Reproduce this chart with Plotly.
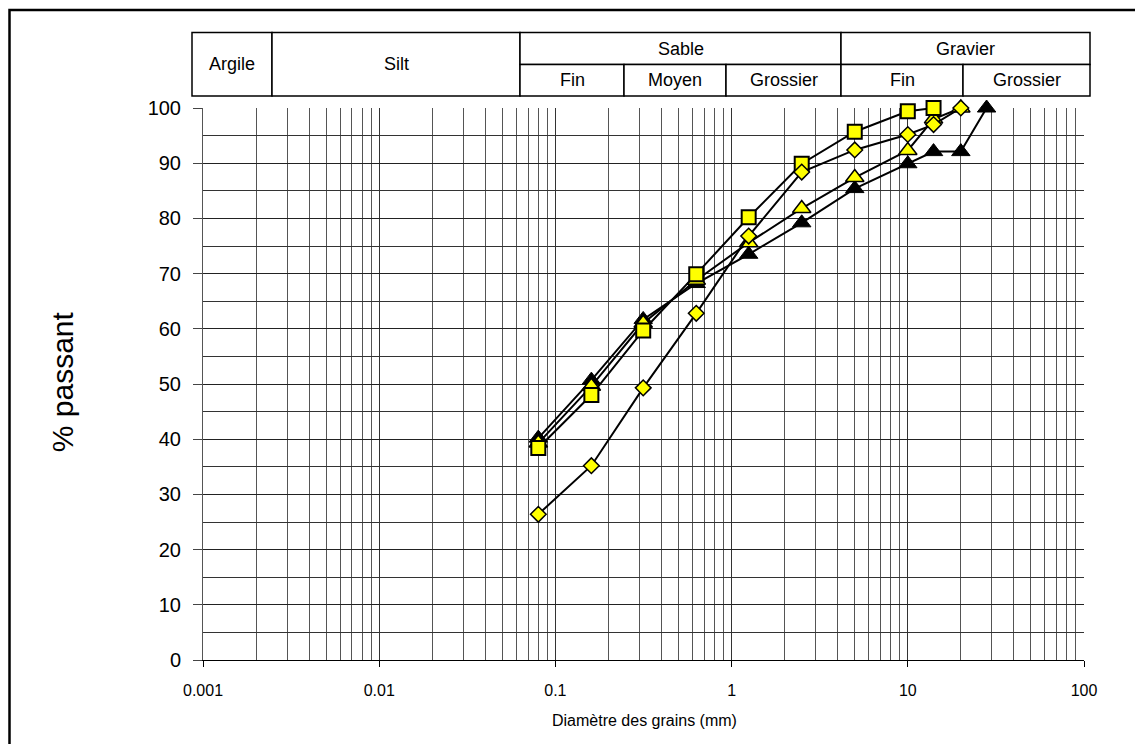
import plotly.graph_objects as go

# ---- data ----
sizes_sq = [0.08, 0.16, 0.315, 0.63, 1.25, 2.5, 5, 10, 14]
pass_sq = [38.4, 48.0, 59.7, 69.9, 80.2, 89.9, 95.7, 99.4, 100]

sizes_di = [0.08, 0.16, 0.315, 0.63, 1.25, 2.5, 5, 10, 14, 20]
pass_di = [26.4, 35.2, 49.3, 62.8, 76.8, 88.4, 92.4, 95.2, 97.0, 100]

sizes_yt = [0.08, 0.16, 0.315, 0.63, 1.25, 2.5, 5, 10, 14, 20]
pass_yt = [39.3, 49.6, 61.0, 68.8, 75.6, 81.8, 87.4, 92.3, 98.0, 100]

sizes_bt = [0.08, 0.16, 0.315, 0.63, 1.25, 2.5, 5, 10, 14, 20, 28]
pass_bt = [40.2, 50.7, 61.7, 68.2, 73.5, 79.2, 85.4, 89.9, 92.1, 92.1, 100]

x_ticks = [0.001, 0.01, 0.1, 1, 10, 100]
x_tick_labels = ["0.001", "0.01", "0.1", "1", "10", "100"]

# header table: (label, left px, right px, row)  row 0 = full height, 1 = top, 2 = bottom
header_cells = [
    ("Argile", 192, 272, 0), ("Silt", 272, 520, 0),
    ("Sable", 520, 841, 1), ("Gravier", 841, 1090, 1),
    ("Fin", 520, 624, 2), ("Moyen", 624, 726, 2), ("Grossier", 726, 841, 2),
    ("Fin", 841, 963, 2), ("Grossier", 963, 1090, 2),
]

# ---- geometry (page pixels; the page body has an 8px margin) ----
OFF = 8
W, H = 1143 - 2 * OFF, 752 - 2 * OFF
PL, PR, PT, PB = 203 - OFF, 1084 - OFF, 107.5 - OFF, 660 - OFF
FONT = "Liberation Sans, Arial, sans-serif"


def px(x):
    return (x - OFF - PL) / (PR - PL)


def py(y):
    return (PB - (y - OFF)) / (PB - PT)


fig = go.Figure()

line_style = dict(color="black", width=2)
fig.add_trace(go.Scatter(x=sizes_bt, y=pass_bt, mode="lines+markers", line=line_style,
                         cliponaxis=False,
                         marker=dict(symbol="triangle-up", size=16, color="black",
                                     line=dict(color="black", width=1)), showlegend=False))
fig.add_trace(go.Scatter(x=sizes_yt, y=pass_yt, mode="lines+markers", line=line_style,
                         cliponaxis=False,
                         marker=dict(symbol="triangle-up", size=16, color="#FFFF00",
                                     line=dict(color="black", width=1.5)), showlegend=False))
fig.add_trace(go.Scatter(x=sizes_sq, y=pass_sq, mode="lines+markers", line=line_style,
                         cliponaxis=False,
                         marker=dict(symbol="square", size=14, color="#FFFF00",
                                     line=dict(color="black", width=2)), showlegend=False))
fig.add_trace(go.Scatter(x=sizes_di, y=pass_di, mode="lines+markers", line=line_style,
                         cliponaxis=False,
                         marker=dict(symbol="diamond", size=12, color="#FFFF00",
                                     line=dict(color="black", width=1.5)), showlegend=False))

minor_vals = [m * 10 ** e for e in range(-3, 2) for m in range(2, 10)]

fig.update_xaxes(
    type="log", range=[-3, 2], tickmode="array", tickvals=x_ticks, ticktext=x_tick_labels,
    ticks="outside", ticklen=6, tickcolor="black", tickwidth=1,
    ticklabelstandoff=10,
    showgrid=True, gridcolor="#333333", gridwidth=1,
    minor=dict(tickmode="array", tickvals=minor_vals, showgrid=True,
               gridcolor="#555555", gridwidth=1, ticks=""),
    showline=True, linecolor="black", linewidth=1, mirror=False,
    zeroline=False,
    tickfont=dict(family=FONT, size=16, color="black"),
)
fig.update_yaxes(
    range=[0, 100], tickmode="linear", tick0=0, dtick=10,
    ticks="outside", ticklen=9, tickcolor="#444444", tickwidth=1,
    ticklabelstandoff=8,
    showgrid=True, gridcolor="#222222", gridwidth=1,
    minor=dict(tickmode="linear", tick0=5, dtick=10, showgrid=True,
               gridcolor="#333333", gridwidth=1, ticks=""),
    showline=True, linecolor="#555555", linewidth=1,
    zeroline=False,
    tickfont=dict(family=FONT, size=20, color="black"),
)

shapes = []
annotations = []

# outer frame (left and top edges visible)
shapes.append(dict(type="rect", xref="paper", yref="paper",
                   x0=px(9.5), x1=px(1200), y0=py(800), y1=py(9.5),
                   line=dict(color="black", width=2.5), fillcolor="rgba(0,0,0,0)", layer="above"))

ROW_Y = {0: (32, 95.5), 1: (32, 64), 2: (64, 95.5)}
for label, l, r, row in header_cells:
    t, b = ROW_Y[row]
    shapes.append(dict(type="rect", xref="paper", yref="paper",
                       x0=px(l), x1=px(r), y0=py(b), y1=py(t),
                       line=dict(color="black", width=1.5), fillcolor="white", layer="above"))
    annotations.append(dict(text=label, xref="paper", yref="paper",
                            x=px((l + r) / 2), y=py((t + b) / 2),
                            xanchor="center", yanchor="middle", showarrow=False,
                            font=dict(family=FONT, size=18, color="black")))

annotations.append(dict(text="% passant", xref="paper", yref="paper",
                        x=px(62), y=py(382), textangle=-90,
                        xanchor="center", yanchor="middle", showarrow=False,
                        font=dict(family=FONT, size=30, color="black")))
annotations.append(dict(text="Diamètre des grains (mm)", xref="paper", yref="paper",
                        x=px(644), y=py(721),
                        xanchor="center", yanchor="middle", showarrow=False,
                        font=dict(family=FONT, size=16, color="black")))

fig.update_layout(
    width=W, height=H,
    margin=dict(l=PL, r=W - PR, t=PT, b=H - PB, autoexpand=False),
    paper_bgcolor="white", plot_bgcolor="white",
    shapes=shapes, annotations=annotations,
    showlegend=False,
)

fig.write_html("out.html")
